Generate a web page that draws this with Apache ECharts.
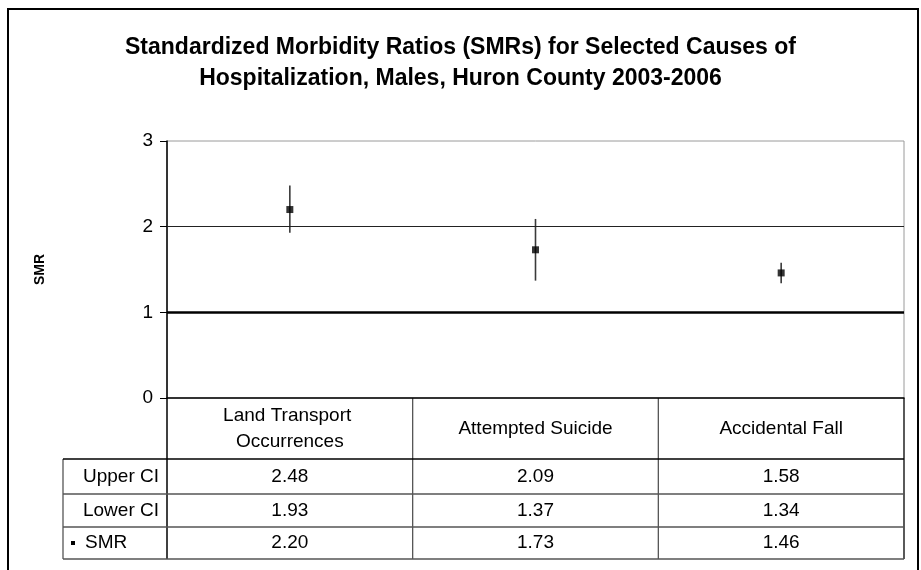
<!DOCTYPE html>
<html>
<head>
<meta charset="utf-8">
<script src="https://cdn.jsdelivr.net/npm/echarts@6/dist/echarts.min.js"></script>
<style>
  html, body { margin: 0; padding: 0; background: #fff; }
  #chart { width: 921px; height: 570px; }
</style>
</head>
<body>
<div id="chart"></div>
<script>
// Causes of hospitalization and their SMRs with 95% confidence limits
const categories = ['Land Transport Occurrences', 'Attempted Suicide', 'Accidental Fall'];
const smr = [2.20, 1.73, 1.46];
const lowerCI = [1.93, 1.37, 1.34];
const upperCI = [2.48, 2.09, 1.58];
const yTicks = [0, 1, 2, 3];

const FONT = '"Liberation Sans", Arial, sans-serif';
const GRID = { left: 167, top: 141, right: 904, bottom: 398 };
const ROW_H = [61, 35, 33, 32]; // header row + three data rows
const TABLE_LEFT = 63;
const TABLE_FONT = 19;

const chart = echarts.init(document.getElementById('chart'));

const option = {
  animation: false,
  backgroundColor: '#fff',
  title: {
    text: 'Standardized Morbidity Ratios (SMRs) for Selected Causes of\nHospitalization, Males, Huron County 2003-2006',
    left: 'center',
    top: 27,
    textStyle: { fontFamily: FONT, fontSize: 23, fontWeight: 'bold', color: '#000', lineHeight: 31 }
  },
  grid: {
    left: GRID.left, top: GRID.top,
    width: GRID.right - GRID.left, height: GRID.bottom - GRID.top,
    show: true, borderColor: '#9a9a9a', borderWidth: 1, backgroundColor: 'transparent'
  },
  xAxis: {
    type: 'category',
    data: categories,
    axisLine: { lineStyle: { color: '#000', width: 1.5 } },
    axisTick: { show: false },
    axisLabel: {
      interval: 0,
      margin: 31,
      verticalAlign: 'middle',
      width: 200,
      overflow: 'break',
      lineHeight: 26,
      fontFamily: FONT, fontSize: TABLE_FONT, color: '#000'
    },
    splitLine: { show: false }
  },
  yAxis: {
    type: 'value',
    min: yTicks[0], max: yTicks[yTicks.length - 1], interval: 1,
    name: 'SMR',
    nameLocation: 'middle',
    nameRotate: 90,
    nameGap: 120,
    nameTextStyle: { fontFamily: FONT, fontSize: 14, fontWeight: 'bold', color: '#000' },
    axisLine: { show: true, lineStyle: { color: '#000', width: 1.5 } },
    axisTick: { show: true, length: 7, lineStyle: { color: '#000' } },
    axisLabel: { margin: 14, fontFamily: FONT, fontSize: 19, color: '#000' },
    splitLine: { show: false }
  },
  series: [
    {
      name: 'CI',
      type: 'custom',
      data: categories.map((c, i) => [i, lowerCI[i], upperCI[i]]),
      renderItem: function (params, api) {
        const lo = api.coord([api.value(0), api.value(1)]);
        const hi = api.coord([api.value(0), api.value(2)]);
        return {
          type: 'line',
          shape: { x1: lo[0], y1: lo[1], x2: hi[0], y2: hi[1] },
          style: { stroke: '#3a3a3a', lineWidth: 1.6 }
        };
      },
      z: 3
    },
    {
      name: 'SMR',
      type: 'scatter',
      data: smr,
      symbol: 'rect',
      symbolSize: 7,
      itemStyle: { color: '#000' },
      z: 4,
      markLine: {
        silent: true,
        symbol: 'none',
        label: { show: false },
        data: [
          { yAxis: 1, lineStyle: { color: '#000', width: 2.5, type: 'solid' } },
          { yAxis: 2, lineStyle: { color: '#222', width: 1.2, type: 'solid' } }
        ]
      }
    }
  ]
};

chart.setOption(option);

// Data table beneath the plot
function buildTable() {
  const els = [];
  const colW = (GRID.right - GRID.left) / categories.length;
  const rowY = [GRID.bottom];
  ROW_H.forEach(h => rowY.push(rowY[rowY.length - 1] + h));
  const tableBottom = rowY[rowY.length - 1];
  const lineCol = '#555';
  const font = TABLE_FONT + 'px ' + FONT;

  // vertical lines
  els.push({ type: 'line', shape: { x1: GRID.left, y1: GRID.bottom, x2: GRID.left, y2: tableBottom },
             style: { stroke: '#000', lineWidth: 1.5 } });
  for (let i = 1; i <= categories.length; i++) {
    const x = GRID.left + i * colW;
    els.push({ type: 'line', shape: { x1: x, y1: GRID.bottom, x2: x, y2: tableBottom },
               style: { stroke: i === categories.length ? '#000' : lineCol, lineWidth: 1.3 } });
  }
  els.push({ type: 'line', shape: { x1: TABLE_LEFT, y1: rowY[1], x2: TABLE_LEFT, y2: tableBottom },
             style: { stroke: lineCol, lineWidth: 1.3 } });

  // horizontal lines
  for (let r = 1; r < rowY.length; r++) {
    els.push({ type: 'line', shape: { x1: TABLE_LEFT, y1: rowY[r], x2: GRID.right, y2: rowY[r] },
               style: { stroke: r === 1 ? '#000' : lineCol, lineWidth: 1.3 } });
  }

  const rows = [
    { label: 'Upper CI', values: upperCI },
    { label: 'Lower CI', values: lowerCI },
    { label: 'SMR', values: smr, marker: true }
  ];
  rows.forEach((row, r) => {
    const cy = (rowY[r + 1] + rowY[r + 2]) / 2;
    if (row.marker) {
      els.push({ type: 'rect', shape: { x: 71, y: cy - 2, width: 4, height: 4 }, style: { fill: '#000' } });
      els.push({ type: 'text', x: 85, y: cy,
                 style: { text: row.label, font: font, fill: '#000', align: 'left', verticalAlign: 'middle' } });
    } else {
      els.push({ type: 'text', x: GRID.left - 8, y: cy,
                 style: { text: row.label, font: font, fill: '#000', align: 'right', verticalAlign: 'middle' } });
    }
    categories.forEach((c, i) => {
      const cx = chart.convertToPixel({ xAxisIndex: 0 }, c);
      els.push({ type: 'text', x: cx, y: cy,
                 style: { text: row.values[i].toFixed(2), font: font, fill: '#000', align: 'center', verticalAlign: 'middle' } });
    });
  });

  // chart frame
  els.push({ type: 'rect', shape: { x: 8, y: 9, width: 910, height: 580 },
             style: { fill: 'none', stroke: '#000', lineWidth: 2 } });

  chart.setOption({ graphic: els });
}
buildTable();
</script>
</body>
</html>
